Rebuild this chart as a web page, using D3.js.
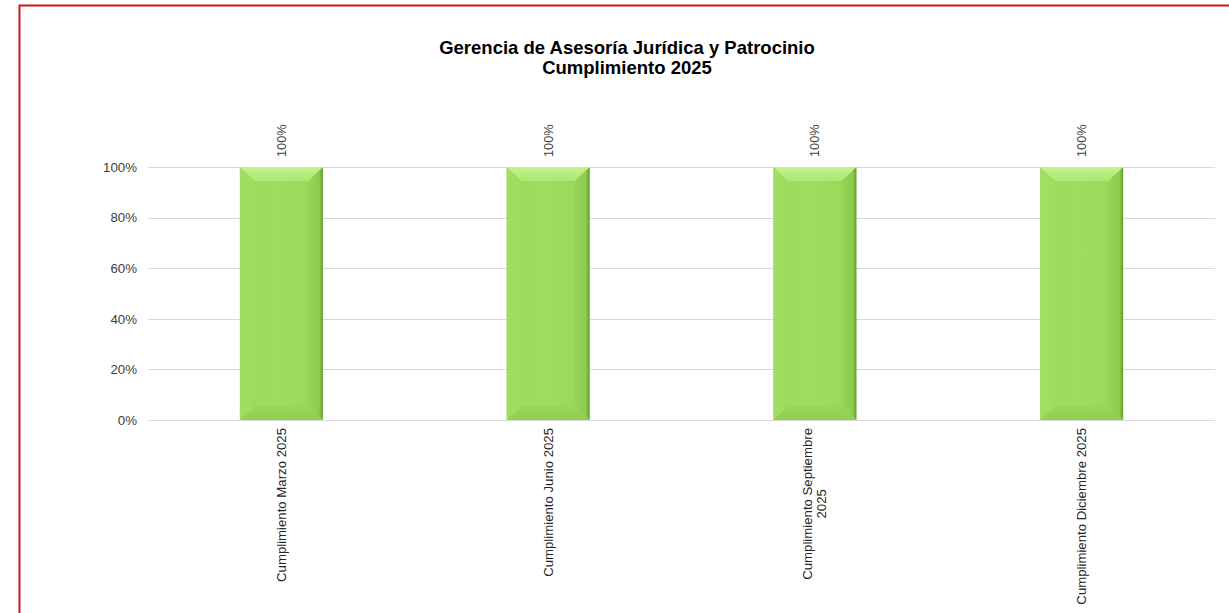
<!DOCTYPE html>
<html>
<head>
<meta charset="utf-8">
<script src="https://cdn.jsdelivr.net/npm/d3@7"></script>
<style>
  html, body { margin: 0; padding: 0; background: #fff; }
  svg { display: block; font-family: "Liberation Sans", Arial, sans-serif; }
</style>
</head>
<body>
<svg id="chart" width="1229" height="613"></svg>
<script>
// Datos del gráfico
const titulo = ["Gerencia de Asesoría Jurídica y Patrocinio", "Cumplimiento 2025"];
const categorias = [
  ["Cumplimiento Marzo 2025"],
  ["Cumplimiento Junio 2025"],
  ["Cumplimiento Septiembre", "2025"],
  ["Cumplimiento Diciembre 2025"]
];
const valores = [1, 1, 1, 1];
const ticks = [0, 0.2, 0.4, 0.6, 0.8, 1];

const svg = d3.select("#chart");

// Marco rojo del área del gráfico
svg.append("rect")
  .attr("x", 19.5).attr("y", 5.5)
  .attr("width", 1240).attr("height", 640)
  .attr("fill", "none")
  .attr("stroke", "#d0161b")
  .attr("stroke-width", 2);

// Gradientes para el efecto biselado
const defs = svg.append("defs");
function linGrad(id, x2, y2, stops) {
  const g = defs.append("linearGradient").attr("id", id)
    .attr("x1", 0).attr("y1", 0).attr("x2", x2).attr("y2", y2);
  stops.forEach(s => g.append("stop").attr("offset", s[0]).attr("stop-color", s[1]));
}
linGrad("gFace", 1, 0, [[0, "#9cdb5c"], [0.5, "#9ddc5d"], [1, "#98d758"]]);
linGrad("gTop", 0, 1, [[0, "#c6f390"], [1, "#aee671"]]);
linGrad("gLeft", 1, 0, [[0, "#a2de63"], [1, "#9ddb5e"]]);
linGrad("gRight", 1, 0, [[0, "#96d556"], [0.75, "#8ccd4d"], [1, "#679e2e"]]);
linGrad("gBottom", 0, 1, [[0, "#98d759"], [1, "#8fcf50"]]);

// Escalas
const x = d3.scaleBand()
  .domain(d3.range(categorias.length))
  .range([148, 1215])
  .padding(0);

const y = d3.scaleLinear()
  .domain([0, 1])
  .range([420, 167]);

// Líneas de cuadrícula
svg.append("g")
  .selectAll("line")
  .data(ticks)
  .join("line")
  .attr("x1", 148).attr("x2", 1215)
  .attr("y1", d => Math.round(y(d)) + 0.5)
  .attr("y2", d => Math.round(y(d)) + 0.5)
  .attr("stroke", "#d9d9d9")
  .attr("stroke-width", 1);

// Eje Y
const yAxis = svg.append("g")
  .attr("transform", "translate(148,0)")
  .call(d3.axisLeft(y).tickValues(ticks).tickFormat(d3.format(".0%")).tickSize(0).tickPadding(11));
yAxis.select(".domain").remove();
yAxis.selectAll("text")
  .attr("font-size", 13.3)
  .attr("fill", "#404040")
  .attr("font-family", "'Liberation Sans', Arial, sans-serif");

// Barras con bisel
const barW = x.bandwidth() * 0.311;
const bev = 14, bevS = 15;
const bars = svg.append("g").selectAll("g")
  .data(valores)
  .join("g")
  .attr("transform", (d, i) => `translate(${x(i) + x.bandwidth() / 2 - barW / 2},0)`);

bars.each(function (d) {
  const g = d3.select(this);
  const t = y(d), b = y(0), w = barW;
  g.append("rect").attr("x", 0).attr("y", t).attr("width", w).attr("height", b - t).attr("fill", "url(#gFace)");
  g.append("path").attr("d", `M0,${t}L${bevS},${t + bev}L${bevS},${b - bev}L0,${b}Z`).attr("fill", "url(#gLeft)");
  g.append("path").attr("d", `M${w},${t}L${w - bevS},${t + bev}L${w - bevS},${b - bev}L${w},${b}Z`).attr("fill", "url(#gRight)");
  g.append("path").attr("d", `M0,${b}L${bevS},${b - bev}L${w - bevS},${b - bev}L${w},${b}Z`).attr("fill", "url(#gBottom)");
  g.append("path").attr("d", `M0,${t}L${w},${t}L${w - bevS},${t + bev}L${bevS},${t + bev}Z`).attr("fill", "url(#gTop)");
});

// Etiquetas de datos
svg.append("g").selectAll("text")
  .data(valores)
  .join("text")
  .attr("transform", (d, i) => `translate(${x(i) + x.bandwidth() / 2 + 4.5},${y(d) - 10}) rotate(-90)`)
  .attr("text-anchor", "start")
  .attr("font-size", 12.8)
  .attr("fill", "#404040")
  .text(d3.format(".0%"));

// Etiquetas del eje X (rotadas)
const lineH = 14;
categorias.forEach((lines, i) => {
  const cx = x(i) + x.bandwidth() / 2;
  const g = svg.append("g").attr("transform", `translate(${cx},428) rotate(-90)`);
  const texts = lines.map((l, k) => g.append("text")
    .attr("font-size", 13.2)
    .attr("fill", "#262626")
    .attr("y", (k - (lines.length - 1) / 2) * lineH + 4.5)
    .text(l));
  const maxW = d3.max(texts, tx => tx.node().getComputedTextLength());
  texts.forEach(tx => tx.attr("text-anchor", "middle").attr("x", -maxW / 2));
});

// Título
const tt = svg.append("text")
  .attr("text-anchor", "middle")
  .attr("font-size", 18.5)
  .attr("font-weight", "bold")
  .attr("fill", "#000");
titulo.forEach((l, k) => tt.append("tspan").attr("x", 627).attr("y", 54 + k * 20).text(l));
</script>
</body>
</html>
